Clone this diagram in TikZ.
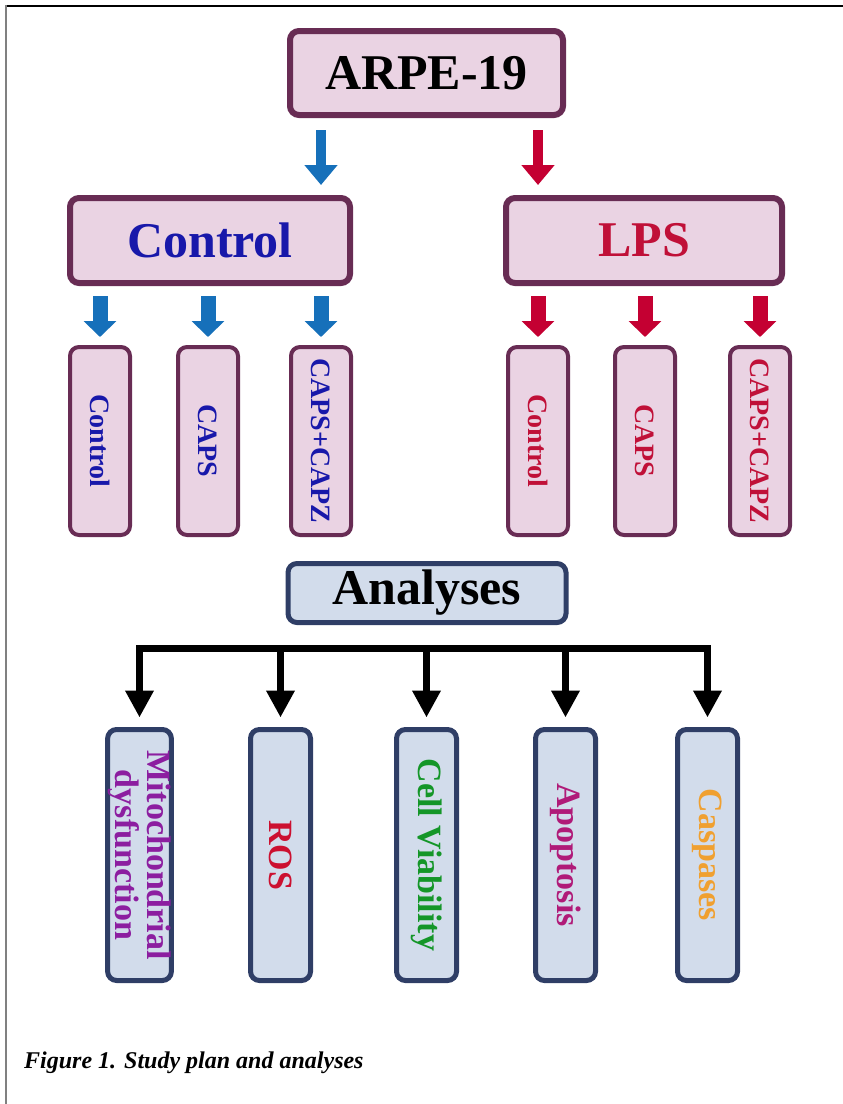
\documentclass[tikz,border=0pt]{standalone}
\usepackage{graphicx,color}
\usepackage{fontspec}
\setmainfont{Liberation Serif}
\usetikzlibrary{arrows.meta}

\definecolor{pinkfill}{RGB}{234,211,227}
\definecolor{pinkdraw}{RGB}{104,44,84}
\definecolor{navyfill}{RGB}{210,220,235}
\definecolor{navydraw}{RGB}{47,62,102}
\definecolor{ctlblue}{RGB}{24,24,170}
\definecolor{lpsred}{RGB}{192,16,56}
\definecolor{arrowblue}{RGB}{22,112,186}
\definecolor{arrowred}{RGB}{196,0,50}
\definecolor{mitopurple}{RGB}{140,30,160}
\definecolor{rosred}{RGB}{204,16,48}
\definecolor{cvgreen}{RGB}{20,150,40}
\definecolor{apomagenta}{RGB}{176,26,120}
\definecolor{casporange}{RGB}{240,160,48}

\begin{document}
\begin{tikzpicture}
	[x=1pt,y=-1pt,every node/.style={inner sep=0pt},
	 bigbox/.style={draw=pinkdraw,fill=pinkfill,line width=6pt,rounded corners=9pt,font=\fontsize{50}{55}\selectfont\bfseries},
	 subbox/.style={draw=pinkdraw,fill=pinkfill,line width=4pt,rounded corners=9pt,minimum width=60pt,minimum height=188pt,font=\fontsize{28}{30}\selectfont\bfseries},
	 anabox/.style={draw=navydraw,fill=navyfill,line width=5pt,rounded corners=9pt,font=\fontsize{50}{55}\selectfont\bfseries},
	 testbox/.style={draw=navydraw,fill=navyfill,line width=5pt,rounded corners=9pt,minimum width=60pt,minimum height=251pt,font=\fontsize{34}{27}\selectfont\bfseries},
	 bigarrow/.style={line width=10pt,-{Triangle[width=32pt,length=20pt]},shorten <=12pt,shorten >=10pt},
	 smallarrow/.style={line width=15pt,-{Triangle[width=32pt,length=16pt]},shorten <=10pt,shorten >=8pt},
	 barline/.style={line width=7pt,line cap=rect},
	 droparrow/.style={line width=7.5pt,-{Triangle[width=27pt,length=27pt]},shorten >=9.5pt}]
	\useasboundingbox (0,0) rectangle (843,1104);
	\draw[line width=2pt] (5,6) -- (843,6);
	\draw[gray,line width=1.5pt] (6,5) -- (6,1104);
	
	\node[bigbox,minimum width=273pt,minimum height=84pt] (arpe) at (426.5,73) {ARPE-19};
	\node[bigbox,text=ctlblue,minimum width=280pt,minimum height=85pt] (ctl) at (210,240.5) {Control};
	\node[bigbox,text=lpsred,minimum width=276pt,minimum height=85pt] (lps) at (644,240.5) {LPS};
	\node[subbox,text=ctlblue] (c1) at (100,441) {\rotatebox{-90}{Control}};
	\node[subbox,text=ctlblue] (c2) at (208,441) {\rotatebox{-90}{CAPS}};
	\node[subbox,text=ctlblue] (c3) at (321,441) {\rotatebox{-90}{CAPS+CAPZ}};
	\node[subbox,text=lpsred] (l1) at (538,441) {\rotatebox{-90}{Control}};
	\node[subbox,text=lpsred] (l2) at (645,441) {\rotatebox{-90}{CAPS}};
	\node[subbox,text=lpsred] (l3) at (760,441) {\rotatebox{-90}{CAPS+CAPZ}};
	\node[anabox,minimum width=278pt,minimum height=59pt] (ana) at (427,593) {Analyses};
	\coordinate (bar) at (427,648);
	\node[testbox,text=mitopurple] (m1) at (139.5,855) {\rotatebox{-90}{\begin{tabular}{@{}c@{}}Mitochondrial\\dysfunction\end{tabular}}};
	\node[testbox,text=rosred] (m2) at (280.5,855) {\rotatebox{-90}{ROS}};
	\node[testbox,text=cvgreen] (m3) at (426.5,855) {\rotatebox{-90}{Cell Viability}};
	\node[testbox,text=apomagenta] (m4) at (565.5,855) {\rotatebox{-90}{Apoptosis}};
	\node[testbox,text=casporange] (m5) at (707.5,855) {\rotatebox{-90}{Caspases}};
	\node[anchor=base west,font=\fontsize{24}{26}\selectfont\bfseries\itshape] (cap) at (24,1068) {Figure 1. Study plan and analyses};
	
	\draw[bigarrow,arrowblue] (arpe.south -| c3.north) -- (ctl.north -| c3.north);
	\draw[bigarrow,arrowred] (arpe.south -| l1.north) -- (lps.north -| l1.north);
	\foreach \to in {c1,c2,c3}
	\draw[smallarrow,arrowblue] (ctl.south -| \to.north) -- (\to.north);
	\foreach \to in {l1,l2,l3}
	\draw[smallarrow,arrowred] (lps.south -| \to.north) -- (\to.north);
	\draw[barline] (m1.north |- bar) -- (m5.north |- bar);
	\foreach \to in {m1,m2,m3,m4,m5}
	\draw[droparrow] (\to.north |- bar) -- (\to.north);
\end{tikzpicture}
\end{document}
